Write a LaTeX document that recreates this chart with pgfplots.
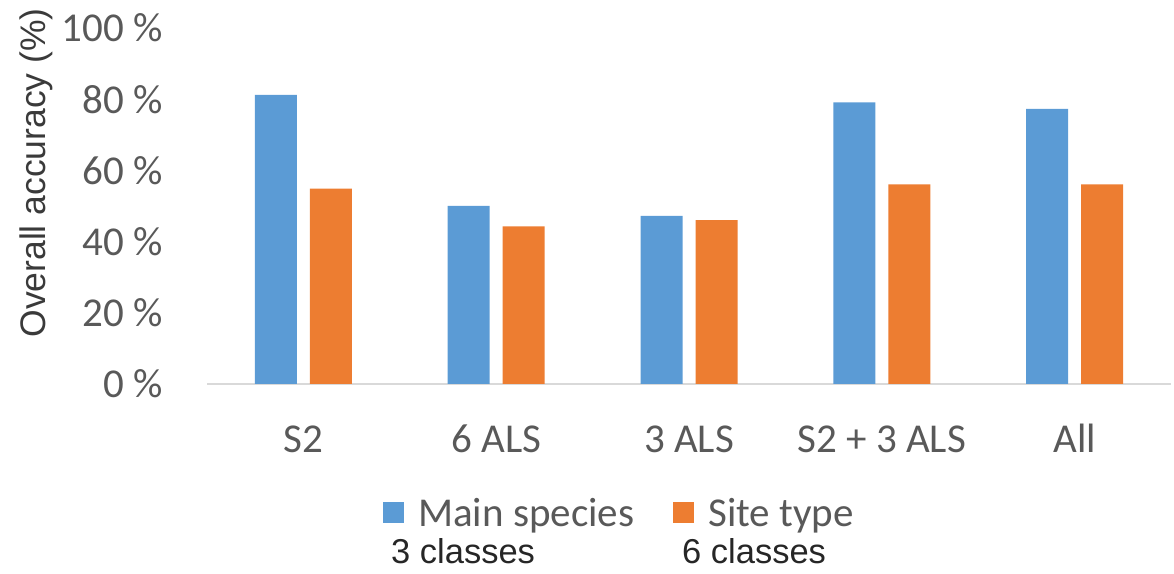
\documentclass[border=0pt]{standalone}
\usepackage{pgfplots}
\pgfplotsset{compat=1.18}
\usepackage{fontspec}
\setmainfont{Carlito}
\newfontfamily\arialfont{Liberation Sans}
\definecolor{barblue}{HTML}{5B9BD5}
\definecolor{barorange}{HTML}{ED7D31}
\definecolor{ticktext}{HTML}{595959}
\definecolor{axisgray}{HTML}{D9D9D9}
\definecolor{labeltext}{HTML}{3A3A3A}
\definecolor{notetext}{HTML}{262626}
\newcommand{\bigfont}{\fontsize{41bp}{49bp}\selectfont}
\begin{document}
\begin{tikzpicture}
\path[use as bounding box] (0,0) rectangle (1174bp,574bp);
\begin{axis}[
  at={(207bp,190bp)}, anchor=south west,
  scale only axis, width=964bp, height=356bp,
  xmin=-0.5, xmax=4.5, ymin=0, ymax=100,
  ybar=13bp, bar width=42bp,
  axis x line*=bottom, axis y line*=left,
  x axis line style={draw=axisgray, line width=1.5bp, -},
  y axis line style={draw=none},
  major tick length=0pt,
  xtick={0,1,2,3,4},
  xticklabels={S2, 6 ALS, 3 ALS, S2 + 3 ALS, All},
  xticklabel style={font=\bigfont, text=ticktext, anchor=base, inner sep=0pt, yshift=-68bp},
  ytick={0,20,40,60,80,100},
  yticklabels={0 \%, 20 \%, 40 \%, 60 \%, 80 \%, 100 \%},
  yticklabel style={font=\bigfont, text=ticktext, anchor=east, inner sep=0pt, xshift=-44bp},
  ylabel={Overall accuracy (\%)},
  ylabel style={font=\arialfont\fontsize{35.5bp}{42bp}\selectfont, text=labeltext,
    at={(rel axis cs:-0.1774,0.593)}, anchor=center, inner sep=0pt},
  legend columns=2,
  legend style={at={(rel axis cs:0.1826,-0.362)}, anchor=west, draw=none,
    font=\bigfont, text=ticktext, inner sep=0pt,
    /tikz/every even column/.append style={column sep=37bp}},
  legend image code/.code={\fill[#1, draw=none] (0bp,-10.5bp) rectangle (21bp,10.5bp);
    \path (33bp,0bp);},
]
\addplot[fill=barblue, draw=none] coordinates {(0,81.2) (1,50.0) (2,47.2) (3,79.1) (4,77.3)};
\addlegendentry{Main species}
\addplot[fill=barorange, draw=none] coordinates {(0,54.9) (1,44.3) (2,46.0) (3,56.1) (4,56.1)};
\addlegendentry{Site type}
\end{axis}
\node[anchor=base west, inner sep=0pt, font=\arialfont\fontsize{34.5bp}{40bp}\selectfont, text=notetext] at (391bp,11bp) {3 classes};
\node[anchor=base west, inner sep=0pt, font=\arialfont\fontsize{34.5bp}{40bp}\selectfont, text=notetext] at (682bp,11bp) {6 classes};
\end{tikzpicture}
\end{document}
